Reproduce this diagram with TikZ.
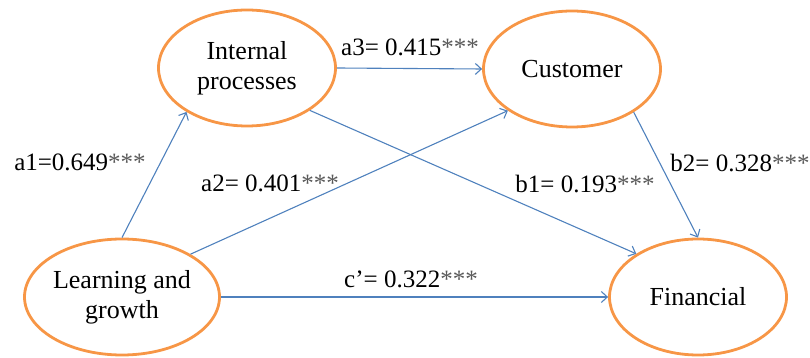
\documentclass[tikz,border=0pt]{standalone}
\usepackage{fontspec}
\setmainfont{Liberation Serif}
\usetikzlibrary{arrows.meta,shapes.geometric}
\definecolor{ringorange}{HTML}{F79646}
\definecolor{linkblue}{HTML}{4F81BD}
\newcommand{\stars}{\textcolor{black!65}{***}}
\begin{document}
\begin{tikzpicture}[x=1pt,y=1pt,
  construct/.style={ellipse, draw=ringorange, line width=2.8pt,
    minimum width=177pt, minimum height=116pt, inner sep=0pt,
    align=center, font=\fontsize{26}{30}\selectfont},
  link/.style={draw=linkblue, line width=1.1pt,
    -{Straight Barb[length=6pt,width=11pt,line width=1.1pt]}},
  coef/.style={font=\fontsize{25}{28}\selectfont, inner sep=0pt}]
\useasboundingbox (0,0) rectangle (810,358);

% latent constructs
\node[construct] (internal) at (247,290) {Internal\\processes};
\node[construct] (customer) at (572,289) {Customer};
\node[construct] (learning) at (122,61) {Learning and\\growth};
\node[construct] (financial) at (698,61) {Financial};

% structural paths
\draw[link] (learning.north) -- (internal.216);
\draw[link] (learning.32) -- (customer.213);
\draw[link] (internal.east) -- (customer.west);
\draw[link] (internal.-34) -- (financial.145);
\draw[link] (customer.-35) -- (financial.north);
\draw[link] (learning.east) -- (financial.west);

% path coefficients
\node[coef] (ca1) at (80,196) {a1=0.649\stars};
\node[coef] (ca2) at (270,175) {a2= 0.401\stars};
\node[coef] (ca3) at (410,311) {a3= 0.415\stars};
\node[coef] (cb1) at (585,174) {b1= 0.193\stars};
\node[coef] (cb2) at (740,195) {b2= 0.328\stars};
\node[coef] (cc) at (411,79) {c’= 0.322\stars};
\end{tikzpicture}
\end{document}
